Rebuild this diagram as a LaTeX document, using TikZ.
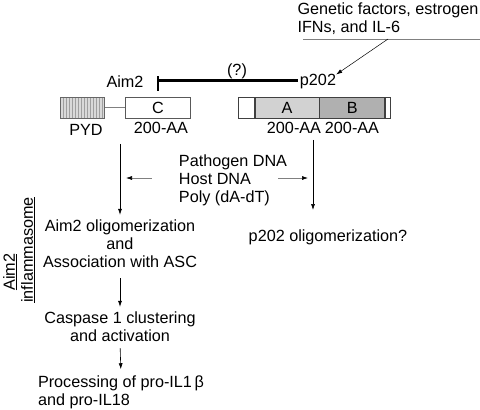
\documentclass[tikz,border=0pt]{standalone}
\usepackage{fontspec}
\setmainfont{Liberation Sans}
\usetikzlibrary{arrows.meta,patterns}

\tikzset{
  lbl/.style={font=\fontsize{16.2}{18}\selectfont, inner sep=0pt},
  dom/.style={draw=black!75, line width=0.7pt, minimum height=21pt, inner sep=0pt, anchor=west, font=\fontsize{16.2}{18}\selectfont},
  flow/.style={-{Latex[length=6pt,width=4pt,black]}, line width=0.6pt},
}

\begin{document}
\begin{tikzpicture}[x=1pt,y=-1pt]
    \useasboundingbox (0,0) rectangle (480,410);

    % inducers of p202
    \node (gen)  at (388,19)  [lbl, align=left] {Genetic factors, estrogen\\IFNs, and IL-6};
    \coordinate (rule l)  at (303,39);
    \coordinate (rule r)  at (480,39);
    \coordinate (gen src) at (388,39);
    \draw[gray, line width=0.6pt] (rule l) -- (rule r);

    \node (aim2) at (125,82)  [lbl] {Aim2};
    \node (p202) at (318,82)  [lbl] {p202};
    \node (qm)   at (237,71)  [lbl] {(?)};
    \coordinate (bar) at (158,80);

    \draw[flow, line width=0.5pt] (gen src) -- (p202.north east);
    \draw[line width=3pt, shorten <=2pt] (p202.west |- bar) -- (bar);
    \draw[line width=2.5pt] ([yshift=4pt]bar) -- ([yshift=-11pt]bar);

    % Aim2 domains
    \node (pyd) at (60,107.5) [dom, minimum width=44pt, draw=gray!80!black,
        preaction={fill=gray!30}, pattern=vertical lines, pattern color=gray!75] {};
    \node (c)   at (125,107.5) [dom, minimum width=65pt, draw=gray!70!black] {C};
    \draw[gray, line width=0.7pt] (pyd) -- (c);

    % p202 domains
    \node (p0) at (238,107.5) [dom, minimum width=16pt] {};
    \node (pa) at (p0.east)   [dom, minimum width=64pt, fill=gray!35] {A};
    \node (pb) at (pa.east)   [dom, minimum width=65pt, fill=gray!62] {B};
    \node (p9) at (pb.east)   [dom, minimum width=5pt] {};

    \node (pyd lbl) at (86,130)  [lbl] {PYD};
    \node (c lbl)   at (161,128) [lbl] {200-AA};
    \node (a lbl)   at (294,128) [lbl] {200-AA};
    \node (b lbl)   at (352,128) [lbl] {200-AA};

    % ligands and downstream events
    \node (dna)       at (233,180) [lbl, align=left] {Pathogen DNA\\Host DNA\\Poly (dA-dT)};
    \node (aim olig)  at (120,244) [lbl, align=center] {Aim2 oligomerization\\and\\Association with ASC};
    \node (p202 olig) at (328,237) [lbl] {p202 oligomerization?};
    \node (casp)      at (120,327) [lbl, align=center] {Caspase 1 clustering\\and activation};
    \node (proc)      at (121,392) [lbl, align=left] {Processing of pro-IL1\,β\\and pro-IL18};

    \node (inf1) at (10,272) [lbl, rotate=90] {\underline{Aim2}};
    \node (inf2) at (28,250) [lbl, rotate=90] {\underline{inflammasome}};

    \coordinate (left tip)  at (126,178);
    \coordinate (right tip) at (308,178);
    \coordinate (p202 in)   at (313,210);

    \draw[flow, shorten <=10pt, shorten >=5pt] (c lbl.south -| aim olig.north) -- (aim olig.north);
    \draw[flow, shorten <=6pt] (b lbl.south -| p202 in) -- (p202 in);
    \draw[flow, gray] ([xshift=-27pt]dna.west |- left tip) -- (left tip);
    \draw[flow, gray] ([xshift=-9pt]dna.east |- right tip) -- (right tip);
    \draw[flow, shorten <=10pt, shorten >=5pt] (aim olig.south) -- (casp.north);
    \draw[flow, shorten <=6pt, shorten >=6pt] (casp.south) -- (proc.north);
  \end{tikzpicture}
\end{document}
